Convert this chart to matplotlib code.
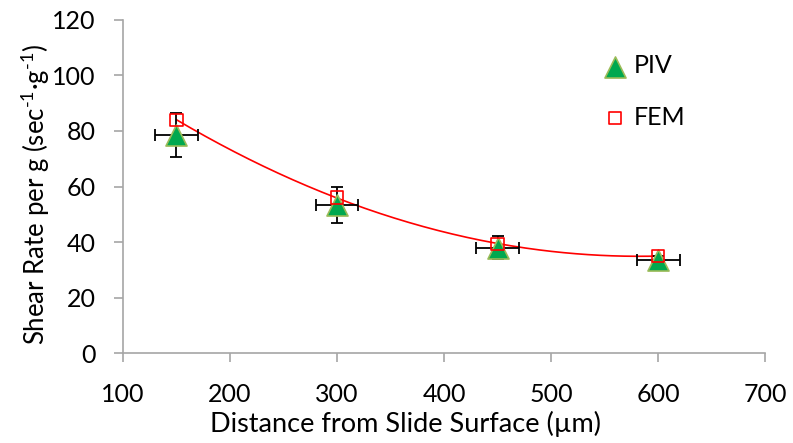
import matplotlib
matplotlib.use("Agg")
import matplotlib.pyplot as plt
import numpy as np

# Values
distance = [150, 300, 450, 600]
piv_rate = [78.5, 53.5, 38.0, 33.5]
piv_yerr = [8.0, 6.5, 4.0, 1.5]
piv_xerr = [20, 20, 20, 20]
fem_rate = [84.0, 56.0, 39.3, 35.0]

AXIS_GRAY = "#A6A6A6"
PIV_GREEN = "#00A84F"
PIV_EDGE = "#9BBB59"
FEM_RED = "#FF0000"
FS = 18

plt.rcParams["font.family"] = ["Lato", "DejaVu Sans"]
plt.rcParams["mathtext.fontset"] = "custom"
plt.rcParams["mathtext.rm"] = "Lato"
plt.rcParams["mathtext.default"] = "regular"

fig = plt.figure(figsize=(7.93, 4.43), dpi=100)
ax = fig.add_axes([0.155, 0.203, 0.81, 0.752])

# 2nd order polynomial trendline through the FEM points (as in the spreadsheet)
coef = np.polyfit(distance, fem_rate, 2)
xs = np.linspace(min(distance), max(distance), 200)
ax.plot(xs, np.polyval(coef, xs), color=FEM_RED, linewidth=1.2, zorder=2)

ax.errorbar(distance, piv_rate, yerr=piv_yerr, xerr=piv_xerr, fmt="none",
            ecolor="black", elinewidth=1.3, capsize=4, capthick=1.3, zorder=3)
ax.scatter(distance, piv_rate, marker="^", s=230, color=PIV_GREEN,
           edgecolors=PIV_EDGE, linewidths=1.2, zorder=4, label="PIV")
ax.scatter(distance, fem_rate, marker="s", s=80, facecolors="none",
           edgecolors=FEM_RED, linewidths=1.2, zorder=5, label="FEM")

ax.set_xlim(100, 700)
ax.set_ylim(0, 120)
ax.set_xticks(range(100, 701, 100))
ax.set_yticks(range(0, 121, 20))

for side in ("top", "right"):
    ax.spines[side].set_visible(False)
for side in ("left", "bottom"):
    ax.spines[side].set_color(AXIS_GRAY)
    ax.spines[side].set_linewidth(1.2)
ax.tick_params(axis="both", colors=AXIS_GRAY, length=6.5, width=1.2,
               labelsize=FS, labelcolor="black")
ax.tick_params(axis="y", pad=13)
ax.tick_params(axis="x", pad=15)

ax.set_xlabel("Distance from Slide Surface (\u00b5m)", fontsize=19.5)
ax.xaxis.set_label_coords(0.44, -0.175)
ax.set_ylabel("Shear Rate per g (sec$^{\u2010 1}$\u00b7g$^{\u2010 1}$)",
              fontsize=18.5)
ax.yaxis.set_label_coords(-0.11, 0.475)

leg = ax.legend(loc="upper left", bbox_to_anchor=(0.712, 0.965), frameon=False,
                fontsize=FS, labelspacing=1.15, handlelength=1.0,
                handletextpad=0.25, scatterpoints=1)
leg.legend_handles[0].set_sizes([230])
leg.legend_handles[1].set_sizes([70])

fig.savefig("out.png", dpi=100)
